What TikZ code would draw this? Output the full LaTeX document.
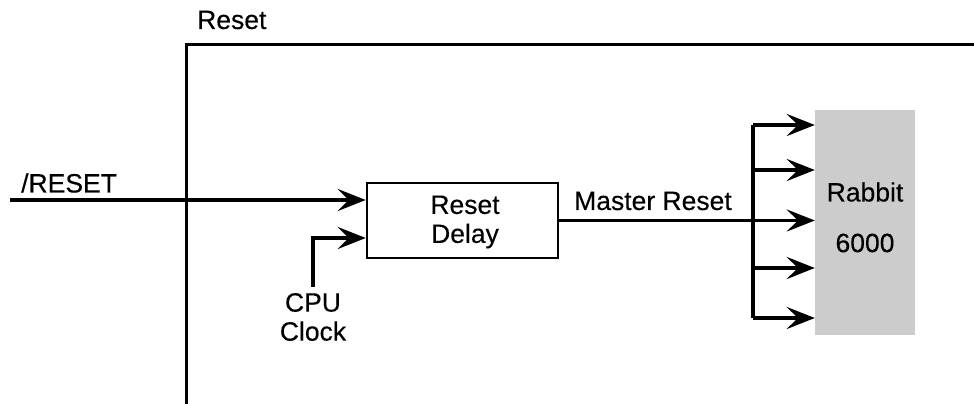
\documentclass[tikz,border=0pt]{standalone}
\usepackage{fontspec}
\setmainfont{Liberation Sans}[UprightFeatures={FakeBold=0.3}]
\usetikzlibrary{arrows.meta,calc}
\begin{document}
\begin{tikzpicture}[x=1pt,y=-1pt,
  lbl/.style={font=\fontsize{26.5}{29}\selectfont, inner sep=0pt, align=center},
  wire/.style={line width=3.5pt},
  arr/.style={wire, -{Stealth[length=28pt,width=22pt,inset=11pt]}},
  blk/.style={draw, line width=2.5pt, minimum width=191pt, minimum height=75pt, inner sep=0pt}]
\useasboundingbox (0,0) rectangle (974,404);
% frame
\coordinate (f1) at (186,404);
\coordinate (f2) at (186,45);
\coordinate (f3) at (974,45);
\draw[line width=3pt] (f1) -- (f2) -- (f3);
\node[lbl, anchor=west] (rlab) at (197,20) {Reset};
% delay box
\node[blk] (delay) at (462.5,220.5) {};
\node[lbl] (dtxt) at (465,222) {Reset\\Delay};
% rabbit
\node[fill=black!20, minimum width=100pt, minimum height=225pt, inner sep=0pt] (rab) at (865,222.5) {};
\node[lbl] (rt1) at (865,192) {Rabbit};
\node[lbl] (rt2) at (865,243) {6000};
% /RESET input
\coordinate (rin) at (10,200);
\node[lbl, anchor=west] (rinl) at (21,183) {/RESET};
\draw[arr] (rin) -- (rin -| delay.west);
% CPU clock
\node[lbl] (cpu) at (313,317) {CPU\\Clock};
\coordinate (d2) at ($(delay.west)+(0,17.5)$);
\draw[arr] ([yshift=6pt]cpu.north) |- (d2);
% master reset
\coordinate (b1) at (753,125);
\coordinate (b2) at (753,170);
\coordinate (b3) at (753,220.5);
\coordinate (b4) at (753,268);
\coordinate (b5) at (753,318);
\draw[wire] (delay.east) -- (b3);
\node[lbl, anchor=west] (mrl) at (574,201) {Master Reset};
\draw[wire, line join=round] (b1) -- (b5);
\foreach \b in {b1,b2,b3,b4,b5}
  \draw[arr] (\b) -- (\b -| rab.west);
\end{tikzpicture}
\end{document}
